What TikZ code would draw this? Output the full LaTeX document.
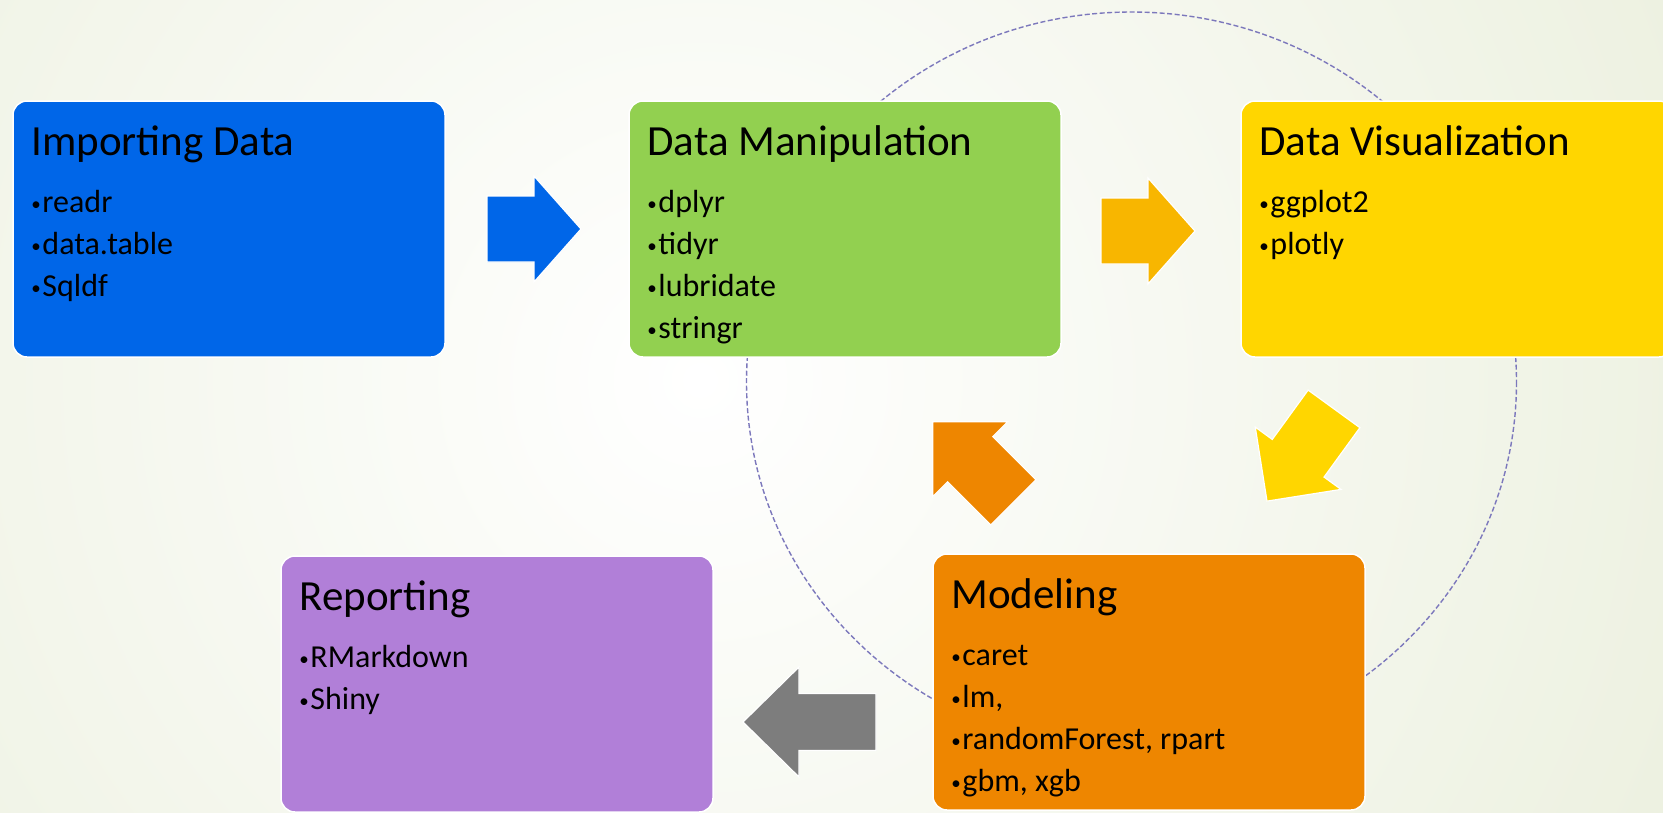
\documentclass[tikz,border=0pt]{standalone}
\usepackage{fontspec}
\setmainfont{Carlito}
\usetikzlibrary{positioning, calc}

\definecolor{impblue}{RGB}{0,102,232}
\definecolor{mangreen}{RGB}{146,208,80}
\definecolor{visyellow}{RGB}{255,214,0}
\definecolor{amber}{RGB}{248,182,0}
\definecolor{modorange}{RGB}{238,134,0}
\definecolor{reppurple}{RGB}{177,127,216}
\definecolor{arrowgray}{RGB}{125,125,125}
\definecolor{ringline}{RGB}{124,120,188}
\definecolor{bgedge}{RGB}{224,231,203}

\tikzset{
  stage/.style={draw=white, line width=1.5, rounded corners=14,
    minimum width=432, minimum height=256, inner sep=0},
  heading/.style={anchor=base west, inner sep=0, text=black,
    font=\fontsize{43}{50}\selectfont},
  pkg/.style={anchor=base west, inner sep=0, text=black,
    font=\fontsize{32}{38}\selectfont},
  flowarrow/.style={draw=white, line width=1.2},
  ring/.style={draw=ringline, line width=1.4, dash pattern=on 5 off 2.5},
}

\newcommand{\bul}{\makebox[11pt][l]{\raisebox{1.5pt}{\fontsize{19}{19}\selectfont •}}}
% colour, centre, angle, length, head length, shaft half, head half
\newcommand{\blockarrow}[7]{%
  \filldraw[flowarrow, fill=#1, shift={#2}, rotate=#3]
    ({-#4/2},{-#6}) -- ({#4/2-#5},{-#6}) -- ({#4/2-#5},{-#7}) -- ({#4/2},0)
    -- ({#4/2-#5},{#7}) -- ({#4/2-#5},{#6}) -- ({-#4/2},{#6}) -- cycle;
}

\begin{document}
\begin{tikzpicture}[x=1pt, y=-1pt]
  % frame and background
  \useasboundingbox (0,0) rectangle (1663,812);
  \clip (0,0) rectangle (1663,812);
  \fill[inner color=white, outer color=bgedge] (700,380) circle (1800);

  % dashed ring behind the stages
  \draw[ring] (1131.5,382) ellipse [x radius=385, y radius=370];

  % stages
  \node[stage, fill=impblue] (imp) at (229,229) {};
  \node[stage, fill=mangreen] (man) at (845,229) {};
  \node[stage, fill=visyellow] (vis) at (1457,229) {};
  \node[stage, fill=reppurple] (rep) at (497,684) {};
  \node[stage, fill=modorange] (mod) at (1149,682) {};

  % titles
  \node[heading] (imp-title) at ($(imp.north west)+(19,55)$) {Importing Data};
  \node[heading] (man-title) at ($(man.north west)+(19,55)$) {Data Manipulation};
  \node[heading] (vis-title) at ($(vis.north west)+(19,55)$) {Data Visualization};
  \node[heading] (rep-title) at ($(rep.north west)+(19,55)$) {Reporting};
  \node[heading] (mod-title) at ($(mod.north west)+(19,55)$) {Modeling};

  % packages
  \foreach \t [count=\i from 0] in {readr, data.table, Sqldf}
    \node[pkg] (imp-\i) at ($(imp.north west)+(19,{112+42*\i})$) {\bul\t};
  \foreach \t [count=\i from 0] in {dplyr, tidyr, lubridate, stringr}
    \node[pkg] (man-\i) at ($(man.north west)+(19,{112+42*\i})$) {\bul\t};
  \foreach \t [count=\i from 0] in {ggplot2, plotly}
    \node[pkg] (vis-\i) at ($(vis.north west)+(19,{112+42*\i})$) {\bul\t};
  \foreach \t [count=\i from 0] in {RMarkdown, Shiny}
    \node[pkg] (rep-\i) at ($(rep.north west)+(19,{112+42*\i})$) {\bul\t};
  \foreach \t [count=\i from 0] in {caret, {lm,}, {randomForest, rpart}, {gbm, xgb}}
    \node[pkg] (mod-\i) at ($(mod.north west)+(19,{112+42*\i})$) {\bul\t};

  % block arrows
  \blockarrow{impblue}{(534,229)}{0}{94}{47}{33}{53}
  \blockarrow{amber}{(1148,231)}{0}{94}{47}{33}{53}
  \blockarrow{visyellow}{(1300.5,455)}{234}{114}{53}{32}{53}
  \blockarrow{modorange}{(973,462)}{135}{114}{53}{32}{53}
  \blockarrow{arrowgray}{(809.5,722)}{180}{133}{56}{28.5}{55}
\end{tikzpicture}
\end{document}
